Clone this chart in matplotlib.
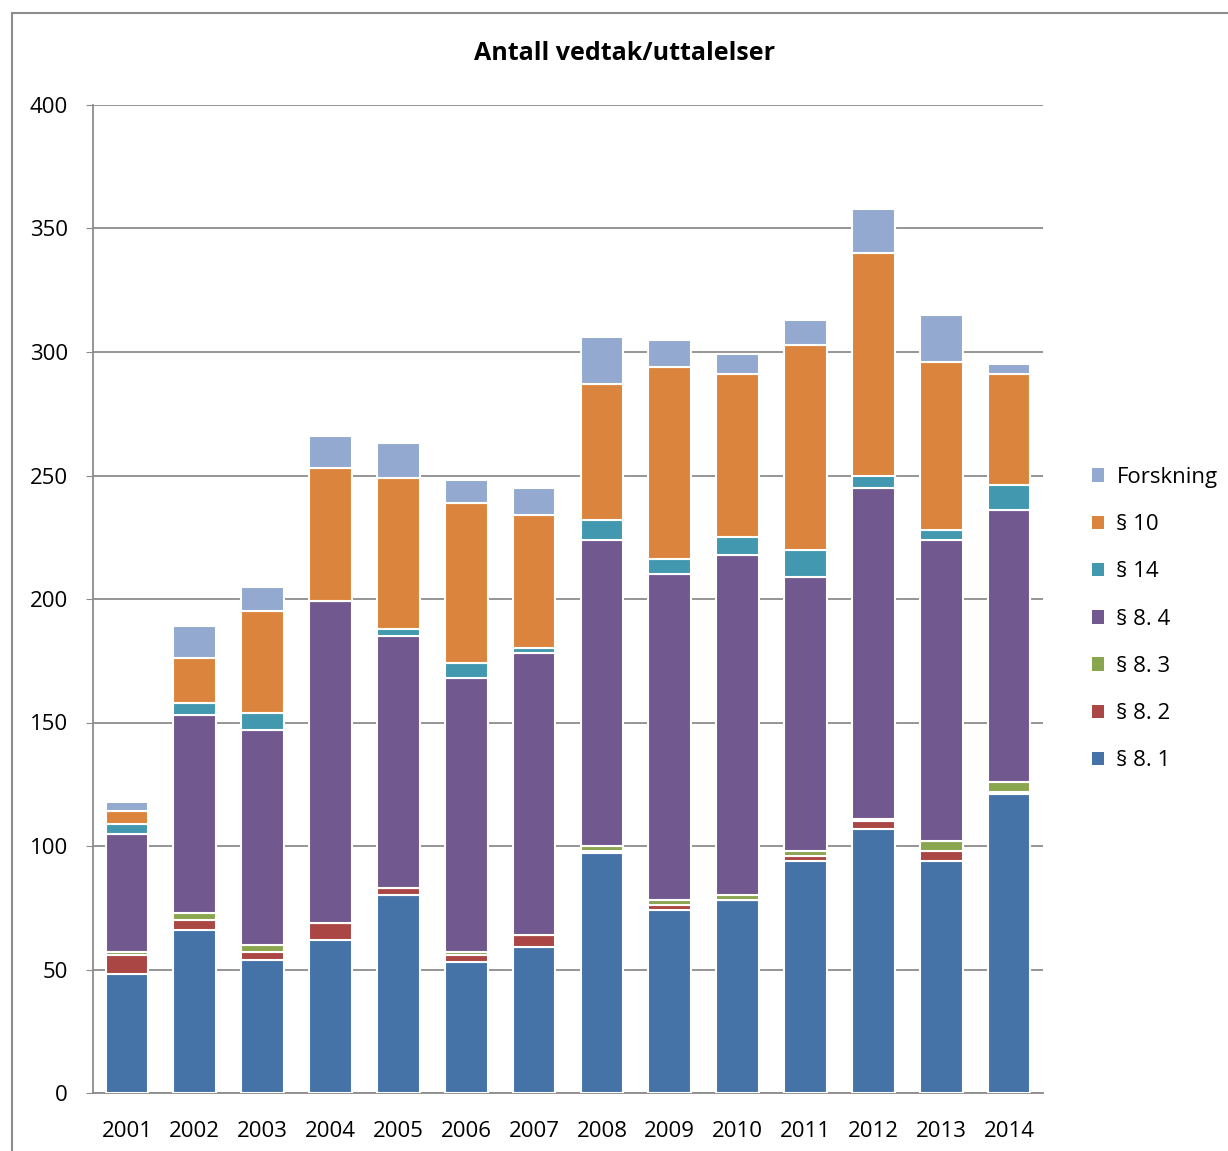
import numpy as np
import matplotlib.pyplot as plt
from matplotlib.patches import Rectangle, Patch

plt.rcParams['font.family'] = ['Open Sans', 'DejaVu Sans']

years = ['2001', '2002', '2003', '2004', '2005', '2006', '2007',
         '2008', '2009', '2010', '2011', '2012', '2013', '2014']

# stacked from bottom to top
p81 = [48, 66, 54, 62, 80, 53, 59, 97, 74, 78, 94, 107, 94, 121]
p82 = [8, 4, 3, 7, 3, 3, 5, 1, 2, 0, 2, 3, 4, 1]
p83 = [1, 3, 3, 0, 0, 1, 0, 2, 2, 2, 2, 1, 4, 4]
p84 = [48, 80, 87, 130, 102, 111, 114, 124, 132, 138, 111, 134, 122, 110]
p14 = [4, 5, 7, 0, 3, 6, 2, 8, 6, 7, 11, 5, 4, 10]
p10 = [5, 18, 41, 54, 61, 65, 54, 55, 78, 66, 83, 90, 68, 45]
forskning = [4, 13, 10, 13, 14, 9, 11, 19, 11, 8, 10, 18, 19, 4]

series = [('§ 8. 1', p81, '#4572A7'),
          ('§ 8. 2', p82, '#AA4643'),
          ('§ 8. 3', p83, '#89A54E'),
          ('§ 8. 4', p84, '#71588F'),
          ('§ 14', p14, '#4198AF'),
          ('§ 10', p10, '#DB843D'),
          ('Forskning', forskning, '#93A9CF')]

fig = plt.figure(figsize=(12.28, 11.51), dpi=100)
ax = fig.add_axes([93/1228, 1 - 1093/1151, 950/1228, 988/1151])

# outer chart frame
fig.patches.append(Rectangle((12/1228, -0.01), 1.2, 1 - 13/1151 + 0.01,
                             transform=fig.transFigure, fill=False,
                             edgecolor='#8c8c8c', linewidth=1.5))

x = np.arange(len(years))
bottom = np.zeros(len(years))
for name, vals, color in series:
    ax.bar(x, vals, bottom=bottom, width=0.63, color=color,
           edgecolor='white', linewidth=1.5, zorder=3)
    bottom += np.array(vals)

ax.set_xlim(-0.5, len(years) - 0.5)
ax.set_ylim(0, 400)
ax.set_yticks(range(0, 401, 50))
ax.set_xticks(x)
ax.set_xticklabels(years)
ax.tick_params(axis='both', labelsize=16, colors='#8c8c8c', labelcolor='black')
ax.tick_params(axis='x', length=0, pad=20)
ax.tick_params(axis='y', length=5, pad=13)
ax.grid(axis='y', color='#8c8c8c', linewidth=1.3, zorder=0)
for s in ['top', 'right']:
    ax.spines[s].set_visible(False)
for s in ['left', 'bottom']:
    ax.spines[s].set_color('#8c8c8c')
    ax.spines[s].set_linewidth(1.3)

fig.text(625/1228, 1 - 53/1151, 'Antall vedtak/uttalelser', ha='center',
         va='center', fontsize=18, fontweight='bold')

handles = [Patch(facecolor=c, edgecolor='none', label=n) for n, v, c in series][::-1]
fig.legend(handles=handles, loc='upper left',
           bbox_to_anchor=(1072/1228, 1 - 447/1151), frameon=False,
           fontsize=16, handlelength=0.55, handleheight=0.55,
           handletextpad=0.55, labelspacing=1.18)

fig.savefig('out.png', dpi=100)
